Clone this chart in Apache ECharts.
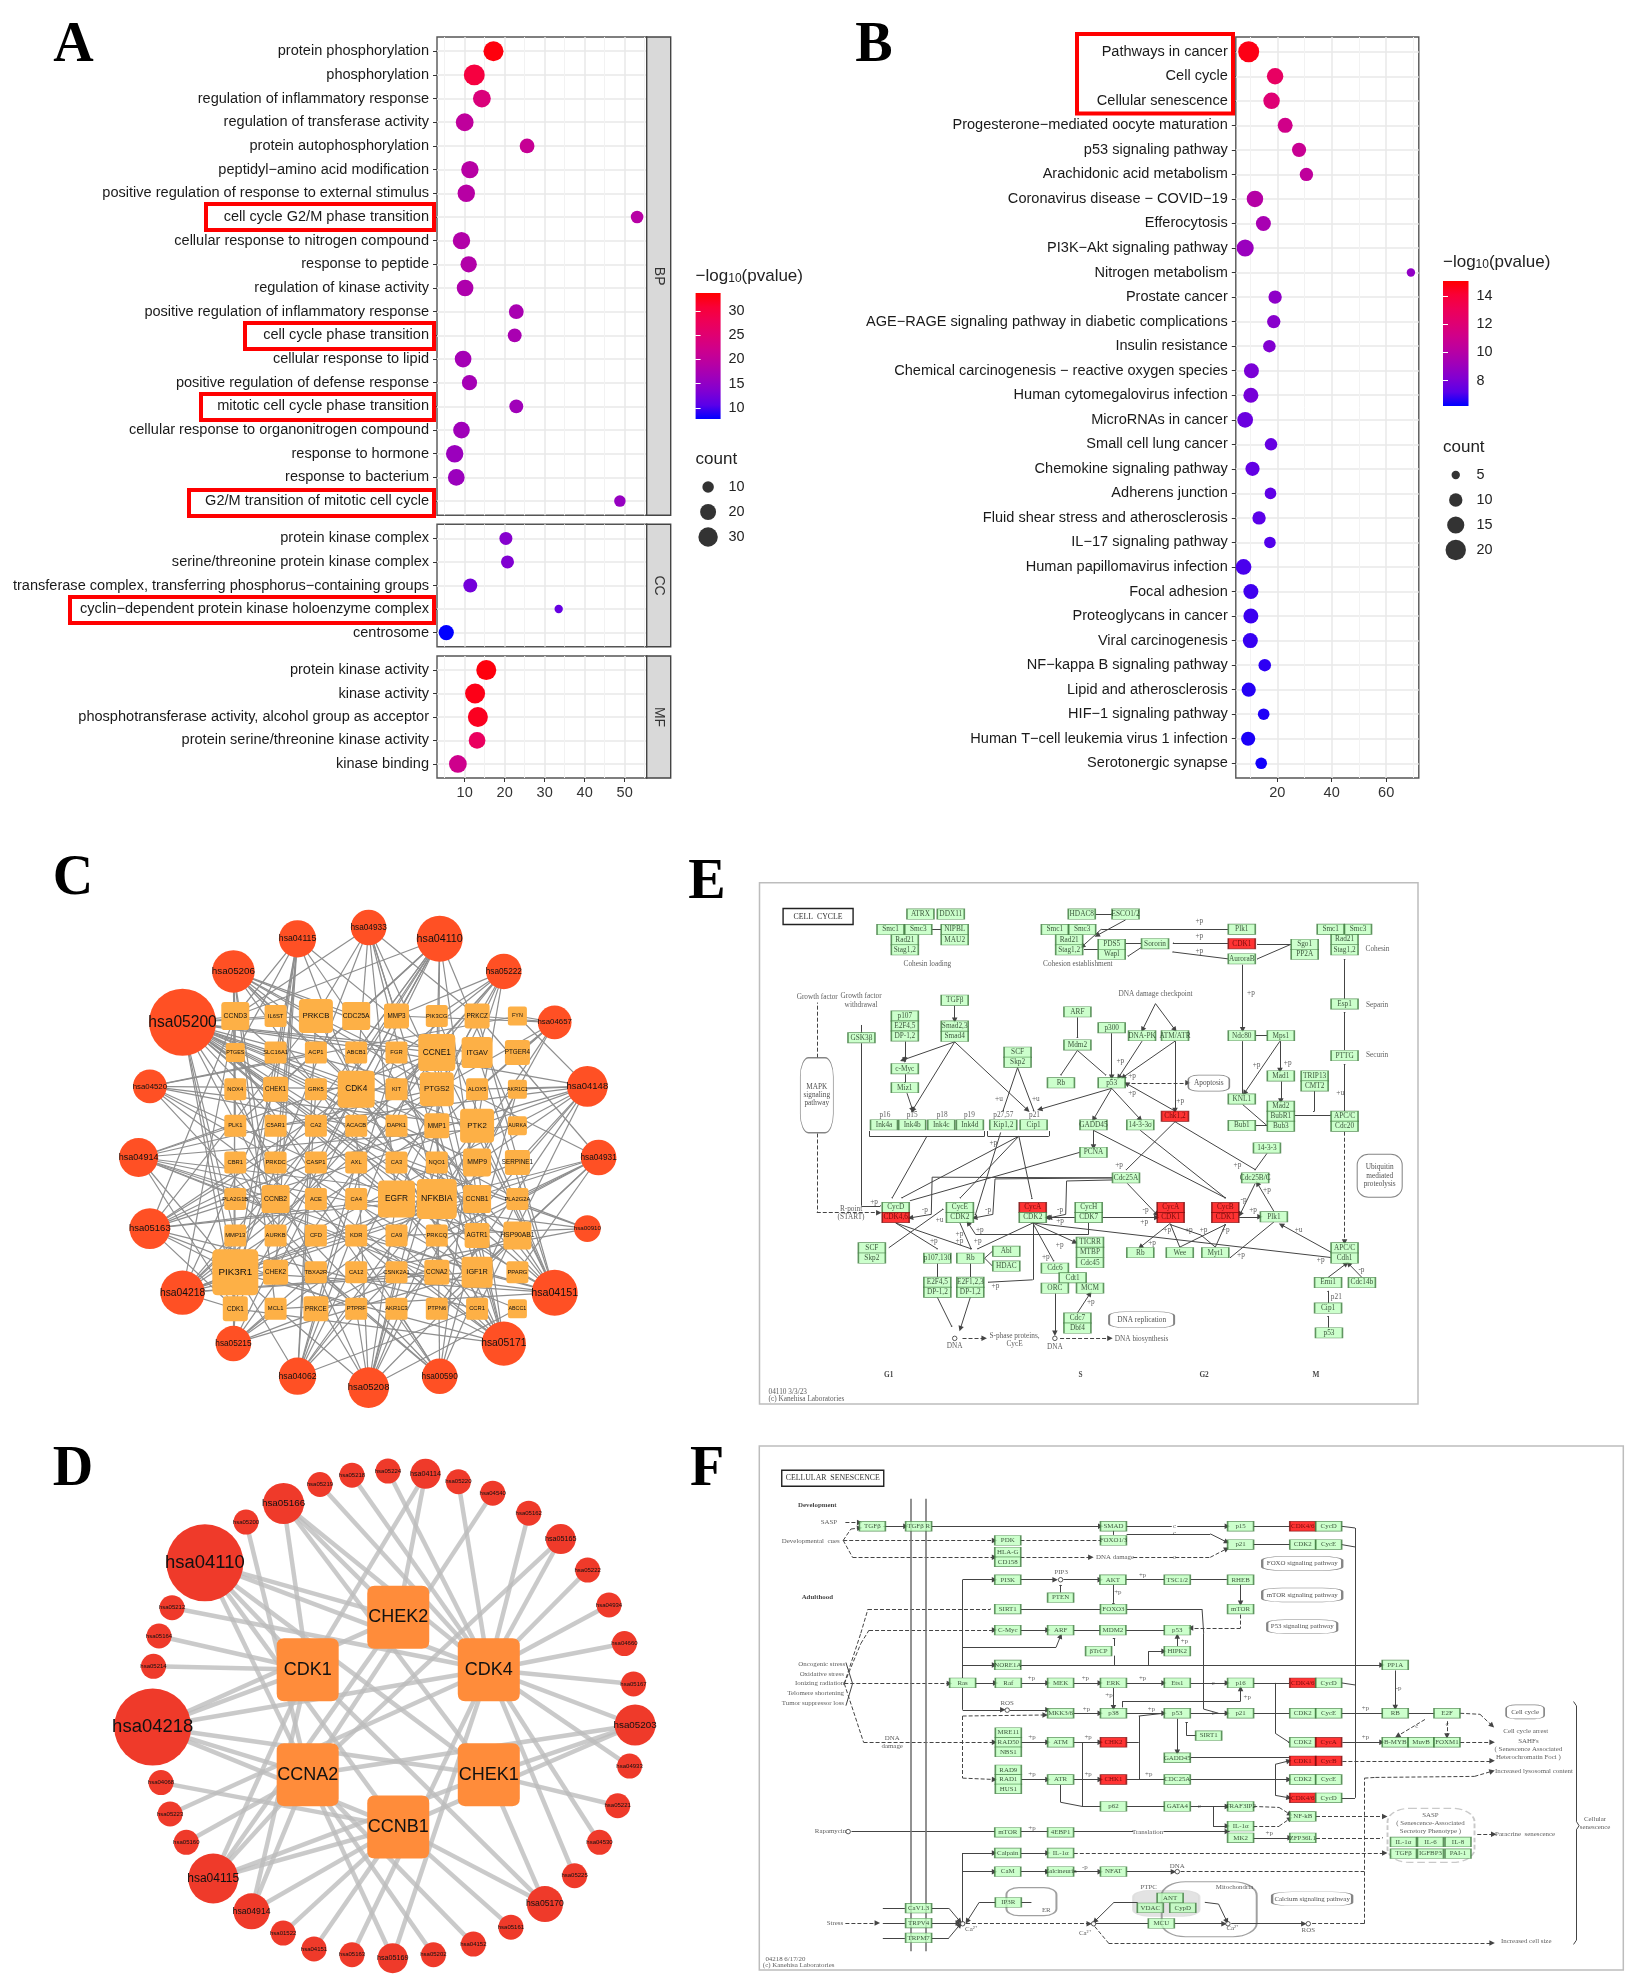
<!DOCTYPE html>
<html><head><meta charset="utf-8">
<script src="https://cdn.jsdelivr.net/npm/echarts@6/dist/echarts.min.js"></script>
<style>html,body{margin:0;padding:0;background:#fff}
#page{position:relative;width:1633px;height:1981px;overflow:hidden;background:#fff}
#main,#kegg{position:absolute;left:0;top:0;width:1633px;height:1981px}
#main{filter:blur(.35px)}#kegg{filter:blur(.6px)}</style></head>
<body><div id="page"><div id="main"></div><div id="kegg"></div></div>
<script>
// ---------- Panel A data ----------
const bpTerms=['protein phosphorylation','phosphorylation','regulation of inflammatory response','regulation of transferase activity','protein autophosphorylation','peptidyl−amino acid modification','positive regulation of response to external stimulus','cell cycle G2/M phase transition','cellular response to nitrogen compound','response to peptide','regulation of kinase activity','positive regulation of inflammatory response','cell cycle phase transition','cellular response to lipid','positive regulation of defense response','mitotic cell cycle phase transition','cellular response to organonitrogen compound','response to hormone','response to bacterium','G2/M transition of mitotic cell cycle'];
const bpEnrich=[17.2,12.4,14.3,10,25.6,11.3,10.4,53.1,9.2,11,10.1,22.9,22.5,9.6,11.2,22.9,9.2,7.5,7.9,48.8];
const bpLogP=[33,30,24,20,21,19,19,19,18.5,18.5,18,17.5,17.5,17,17,16.5,16.5,16,16,15.5];
const bpCount=[32,35,25,25,17,24,24,12,24,21,22,17,15,22,18,15,22,24,22,10];
const ccTerms=['protein kinase complex','serine/threonine protein kinase complex','transferase complex, transferring phosphorus−containing groups','cyclin−dependent protein kinase holoenzyme complex','centrosome'];
const ccEnrich=[20.3,20.7,11.4,33.5,5.4];
const ccLogP=[14,13.5,12.5,11.5,7.7];
const ccCount=[13,13,15,5,18];
const mfTerms=['protein kinase activity','kinase activity','phosphotransferase activity, alcohol group as acceptor','protein serine/threonine kinase activity','kinase binding'];
const mfEnrich=[15.4,12.6,13.3,13.1,8.3];
const mfLogP=[33,32.5,32,27,22];
const mfCount=[32,32,32,22,25];
// ---------- Panel B data ----------
const keggTerms=['Pathways in cancer','Cell cycle','Cellular senescence','Progesterone−mediated oocyte maturation','p53 signaling pathway','Arachidonic acid metabolism','Coronavirus disease − COVID−19','Efferocytosis','PI3K−Akt signaling pathway','Nitrogen metabolism','Prostate cancer','AGE−RAGE signaling pathway in diabetic complications','Insulin resistance','Chemical carcinogenesis − reactive oxygen species','Human cytomegalovirus infection','MicroRNAs in cancer','Small cell lung cancer','Chemokine signaling pathway','Adherens junction','Fluid shear stress and atherosclerosis','IL−17 signaling pathway','Human papillomavirus infection','Focal adhesion','Proteoglycans in cancer','Viral carcinogenesis','NF−kappa B signaling pathway','Lipid and atherosclerosis','HIF−1 signaling pathway','Human T−cell leukemia virus 1 infection','Serotonergic synapse'];
const keggEnrich=[9.5,19.2,17.9,22.9,28,30.7,11.8,14.9,8.2,69.1,19.2,18.7,17.1,10.5,10.3,8.2,17.7,10.9,17.5,13.3,17.3,7.6,10.3,10.3,10.1,15.4,9.5,15,9.3,14.1];
const keggLogP=[14.7,12.7,12,11.2,10.8,10.4,10,9.5,9,8.7,8.6,8.4,8.2,8,7.9,7.6,7.5,7.4,7.3,7.2,7.1,7,6.9,6.85,6.8,6.7,6.6,6.55,6.5,6.4];
const keggCount=[21,14,14,12,11,10,14,12,15,5,10,10,9,12,12,13,9,11,8,10,8,13,12,12,12,9,11,8,11,8];
// Lab-style blue to red ramp
const ramp=['#0000FF','#5A00E9','#8100D2','#9F00BA','#B900A2','#CF008B','#E00071','#EE0057','#F90037','#FF0000'];
// ---------- Panel C data ----------
const cPathways=['hsa04931','hsa00910','hsa04151','hsa05171','hsa00590','hsa05208','hsa04062','hsa05215','hsa04218','hsa05163','hsa04914','hsa04520','hsa05200','hsa05206','hsa04115','hsa04933','hsa04110','hsa05222','hsa04657','hsa04148'];
const cPathwayDegree=[10,5,16,15,10,13,11,10,15,13,12,9,28,14,11,10,16,10,9,13];
const cGenes=['CCND3','IL6ST','PRKCB','CDC25A','MMP3','PIK3CG','PRKCZ','FYN','PTGES','SLC16A1','ACP1','ABCB1','FGR','CCNE1','ITGAV','PTGER4','NOX4','CHEK1','GRK5','CDK4','KIT','PTGS2','ALOX5','AKR1C1','PLK1','C5AR1','CA2','ACACB','DAPK1','MMP1','PTK2','AURKA','CBR1','PRKDC','CASP1','AXL','CA3','NQO1','MMP9','SERPINE1','PLA2G1B','CCNB2','ACE','CA4','EGFR','NFKBIA','CCNB1','PLA2G2A','MMP13','AURKB','CFD','KDR','CA9','PRKCQ','AGTR1','HSP90AB1','PIK3R1','CHEK2','TBXA2R','CA12','CSNK2A1','CCNA2','IGF1R','PPARG','CDK1','MCL1','PRKCE','PTPRF','AKR1C3','PTPN6','CCR1','ABCC1'];
const cGeneDegree=[4,2,6,4,3,2,3,1,1,2,2,2,2,7,5,3,2,3,2,7,2,6,2,1,2,2,2,2,2,3,6,1,2,2,2,2,2,2,4,3,2,4,2,2,7,8,4,2,2,2,2,2,2,2,3,4,10,3,2,2,2,3,5,2,3,2,3,2,2,2,2,1];
const cLinks={
hsa05200:'CCND3 PRKCB IL6ST PTGES SLC16A1 CCNE1 ITGAV CHEK1 CDK4 PTGS2 MMP1 PTK2 PRKDC CASP1 MMP9 PLA2G2A EGFR NFKBIA CCNB2 MMP13 AGTR1 HSP90AB1 PIK3R1 IGF1R CDK1 PPARG FGR GRK5',
hsa05206:'CCND3 IL6ST PRKCB CCNE1 CDK4 PTGS2 PLK1 CCNB1 MCL1 EGFR MMP1 PIK3R1 AURKB CDC25A',
hsa04115:'CCND3 CCNE1 CHEK1 CDK4 PTGES CCNB2 CCNB1 PIK3R1 CHEK2 CDK1 PRKDC',
hsa04933:'PRKCB CCND3 CDK4 MMP9 EGFR NFKBIA PIK3R1 IGF1R PRKCZ MMP3',
hsa04110:'CCND3 CDC25A CCNE1 CDK4 CHEK1 PLK1 PRKDC CCNB2 CCNB1 AURKA CHEK2 CCNA2 CDK1 ABCB1 CA2 MMP3',
hsa05222:'CDK4 CCNE1 ITGAV PTK2 PTGS2 MMP3 PIK3R1 PIK3CG EGFR KIT',
hsa04657:'FYN MMP3 MMP1 MMP9 PTGS2 NFKBIA PRKCZ PTGER4 ALOX5',
hsa04148:'FGR FYN CASP1 CCR1 C5AR1 AKR1C1 PTK2 PTPN6 AKR1C3 MMP9 PIK3R1 SERPINE1 ALOX5',
hsa04931:'PRKCB PRKCE PRKCQ PRKCZ PTPN6 PPARG NFKBIA IGF1R PIK3R1 PLA2G2A',
hsa00910:'CA2 CA3 CA4 CA9 CA12',
hsa04151:'CCND3 CCNE1 CDK4 EGFR IGF1R ITGAV PTK2 PIK3R1 PIK3CG PRKCZ KDR MCL1 HSP90AB1 KIT PPARG CSNK2A1',
hsa05171:'CDK4 CCNE1 PTGS2 NFKBIA PIK3R1 CCR1 MMP1 MMP9 EGFR CASP1 PRKCB PTPN6 PRKDC CDK1 KDR',
hsa00590:'PTGS2 PTGES ALOX5 AKR1C1 AKR1C3 PLA2G1B PLA2G2A TBXA2R CBR1 ACE',
hsa05208:'NOX4 EGFR PIK3R1 HSP90AB1 NQO1 AKR1C1 PTK2 MMP1 ABCC1 CBR1 CSNK2A1 ACACB PTPRF',
hsa04062:'PIK3R1 PIK3CG PRKCB PTK2 NFKBIA GRK5 CCR1 FGR CSNK2A1 PRKCZ AXL',
hsa05215:'CCND3 CCNE1 CDK4 EGFR IGF1R PIK3R1 NFKBIA HSP90AB1 CDK1 MCL1',
hsa04218:'CCND3 CCNE1 CDK1 CDK4 CHEK1 CHEK2 CCNA2 CCNB2 CCNB1 MMP1 NFKBIA PIK3R1 SERPINE1 IGF1R PTGS2',
hsa05163:'CDK1 CCND3 CCNE1 CDK4 EGFR NFKBIA PIK3R1 PTGS2 PTK2 CASP1 PRKCB CCR1 PTPRF',
hsa04914:'CCNA2 CCNB1 CCNB2 CDK1 PLK1 AURKA PIK3R1 IGF1R HSP90AB1 CCNE1 PTGS2 ABCC1',
hsa04520:'ACP1 PTK2 PTPRF IGF1R FYN EGFR CSNK2A1 ACACB KIT'};
// ---------- Panel D data ----------
const dGenes=['CHEK2','CDK1','CDK4','CCNA2','CHEK1','CCNB1'];
const dGeneX=[906,677,1135,677,1135,906];
const dGeneY=[514,666,666,970,970,1122];
const dPathways=['hsa05224','hsa04114','hsa05220','hsa04540','hsa05162','hsa05165','hsa05222','hsa04934','hsa04660','hsa05167','hsa05203','hsa04933','hsa05221','hsa04530','hsa05225','hsa05170','hsa05161','hsa04152','hsa05202','hsa05169','hsa05163','hsa04151','hsa01522','hsa04914','hsa04115','hsa05160','hsa05223','hsa04068','hsa04218','hsa05214','hsa05164','hsa05212','hsa04110','hsa05200','hsa05166','hsa05219','hsa05218'];
const dPathX=[880,975,1058,1145,1236,1317,1385,1439,1478,1501,1505,1491,1461,1415,1352,1277,1191,1096,995,892,789,693,615,535,438,370,329,306,285,287,301,334,417,521,616,708,789];
const dPathY=[90,98,121,154,212,287,377,478,590,707,826,945,1060,1166,1263,1345,1412,1461,1492,1502,1492,1475,1429,1366,1271,1166,1084,993,832,656,568,486,356,238,184,129,102];
const dLinks={hsa05224:'CDK4',hsa04114:'CDK1 CHEK2',hsa05220:'CDK4',hsa04540:'CCNA2',hsa05162:'CDK4',hsa05165:'CDK4 CCNA2',hsa05222:'CDK4',hsa04934:'CDK4',hsa04660:'CDK4',hsa05167:'CDK4',hsa05203:'CDK4 CHEK1 CCNA2 CCNB1',hsa04933:'CDK4',hsa05221:'CHEK1',hsa04530:'CDK4',hsa05225:'CDK4',hsa05170:'CCNB1 CHEK1 CDK1',hsa05161:'CCNB1',hsa04152:'CCNA2',hsa05202:'CCNA2',hsa05169:'CDK4 CCNA2',hsa05163:'CDK4',hsa04151:'CCNB1',hsa01522:'CCNB1',hsa04914:'CCNB1 CCNA2 CDK1',hsa04115:'CCNB1 CCNA2 CDK1 CHEK1 CHEK2',hsa05160:'CCNA2',hsa05223:'CDK4',hsa04068:'CCNB1',hsa04218:'CDK1 CDK4 CCNA2 CHEK1 CCNB1 CHEK2',hsa05214:'CDK1',hsa05164:'CDK1',hsa05212:'CDK4',hsa04110:'CHEK2 CDK1 CDK4 CCNA2 CHEK1 CCNB1',hsa05200:'CCNA2',hsa05166:'CDK1 CHEK2 CDK4 CHEK1',hsa05219:'CDK4',hsa05218:'CDK4'};
// ---------- Panel E diagram (map units) ----------
const eBoxes=[['ATRX',393,128],['DDX11',463,128],['Smc1',324,173],['Smc3',388,173],['NIPBL',472,173],['Rad21',357,203],['MAU2',472,203],['Stag1,2',357,232],['HDAC8',765,128],['ESCO1/2',866,128],['Smc1',703,173],['Smc3',766,173],['Plk1',1134,172],['Rad21',736,203],['PDS5',834,216],['Sororin',934,214],['CDK1',1134,214,1],['Sgo1',1279,216],['Stag1,2',736,232],['Wapl',834,245],['PP2A',1279,245],['AuroraB',1134,258],['Smc1',1339,172],['Smc3',1402,172],['Rad21',1371,202],['Stag1,2',1371,232],['TGFβ',472,378],['Smad2,3',472,453],['Smad4',472,483],['p107',357,424],['E2F4,5',357,453],['DP-1,2',357,482],['ARF',755,412],['Mdm2',755,508],['p300',834,458],['DNA-PK',904,481],['ATM/ATR',980,481],['Rb',717,618],['p53',834,618],['GSK3β',257,487],['c-Myc',357,577],['Miz1',357,632],['SCF',617,529],['Skp2',617,558],['Ink4a',309,740],['Ink4b',374,740],['Ink4c',441,740],['Ink4d',507,740],['Kip1,2',584,740],['Cip1',654,740],['GADD45',792,740],['14-3-3σ',900,740],['Chk1,2',980,715,1],['Ndc80',1134,481],['Mps1',1224,481],['Mad1',1224,598],['Mad2',1224,686],['BubR1',1224,715],['Bub3',1224,744],['KNL1',1134,665],['Bub1',1134,742],['TRIP13',1302,598],['CMT2',1302,627],['APC/C',1371,715],['Cdc20',1371,744],['Esp1',1371,389],['PTTG',1371,539],['14-3-3',1192,807],['PCNA',792,820],['Cdc25A',867,894],['Cdc25B/C',1165,894],['CycD',336,980],['CDK4,6',336,1009,1],['CycE',484,980],['CDK2',484,1009],['CycA',652,980,1],['CDK2',652,1009],['CycH',781,980],['CDK7',781,1009],['CycA',970,980,1],['CDK1',970,1009,1],['CycB',1096,980,1],['CDK1',1096,1009,1],['Plk1',1208,1007],['SCF',281,1097],['Skp2',281,1127],['Abl',591,1107],['HDAC',591,1150],['p107,130',432,1127],['Rb',508,1127],['TICRR',784,1081],['MTBP',784,1110],['Cdc45',784,1140],['Rb',900,1111],['Wee',991,1111],['Myt1',1073,1111],['APC/C',1371,1097],['Cdh1',1371,1127],['Cdc6',703,1156],['Cdt1',744,1184],['ORC',703,1214],['MCM',784,1214],['E2F4,5',432,1197],['DP-1,2',432,1226],['E2F1,2,3',508,1197],['DP-1,2',508,1226],['Emi1',1333,1198],['Cdc14b',1411,1198],['Cip1',1333,1272],['p53',1335,1344],['Cdc7',755,1301],['Dbf4',755,1330]];
const eTexts=[['Cohesin loading',409,273],['Cohesion establishment',756,273],['Cohesin',1447,231],['Separin',1446,391],['Securin',1446,538],['Growth factor',155,370],['Growth factor\nwithdrawal',256,379],['DNA damage checkpoint',935,360],['R-point\n(START)',233,996],['p16',311,713],['p15',374,713],['p18',443,713],['p19',506,713],['p27,57',584,712],['p21',656,712],['S-phase proteins,\nCycE',610,1364],['DNA',472,1382],['DNA',703,1386],['DNA biosynthesis',903,1363],['p21',1352,1240],['04110 3/3/23',87,1516],['(c) Kanehisa Laboratories',130,1535],
['+p',1036,148],['+p',1036,191],['+p',1036,234],['+p',1155,357],['+p',854,556],['+p',881,597],['+p',881,648],['+p',992,670],['+u',574,666],['+u',659,666],['+p',1240,560],['+p',1168,566],['+u',1361,649],['+p',561,792],['+p',851,857],['+p',1124,857],['+p',1192,930],['+p',286,963],['-p',403,987],['+u',437,1016],['-p',549,987],['-p',715,987],['+p',715,1020],['-p',912,987],['+p',909,1022],['-p',1138,958],['+p',1160,987],['+p',483,1057],['+p',483,1078],['+p',530,1046],['+p',424,1078],['+p',525,1078],['+p',714,1088],['+p',682,1124],['+p',962,1046],['+p',927,1082],['+p',1012,1046],['+p',1046,1046],['+p',1097,1046],['+p',1132,1117],['+u',1265,1046],['+p',1316,1134],['+p',566,1207],['+p',786,1254],['-p',1410,1163]];
const eBoldTexts=[['G1',320,1467],['S',762,1467],['G2',1047,1467],['M',1305,1467]];
const eRounds=[['MAPK\nsignaling\npathway',154,654,33,75],['Ubiquitin\nmediated\nproteolysis',1452,888,45,43],['Apoptosis',1058,619,41,16],['DNA replication',903,1306,65,16]];
const eCircles=[[472,1360],[703,1360]];
const eEdges=[['l',420,173,441,173],['t',797,128,834,128],['a',866,145,800,190],['a',1102,172,810,172,766,222],['t',1102,212,975,212],['t',1102,258,975,238],['t',1247,216,1170,216],['t',1247,216,1170,258],['l',902,214,866,214],['t',902,225,872,250],['l',770,230,802,230],['a',1136,275,1136,464],['l',1166,481,1192,481],['a',1222,497,1222,582],['a',1222,497,1140,648],['l',1136,497,1136,650],['a',1224,614,1224,671],['l',1136,681,1192,742],['l',1166,742,1192,742],['t',1256,712,1338,712],['t',1300,642,1300,700],['da',1371,760,1371,1080],['t',1371,374,1371,260],['t',1371,523,1371,414],['t',1371,700,1371,565],['a',472,394,472,436],['a',472,499,352,552],['a',357,498,357,552],['t',357,593,357,617],['a',362,648,375,697],['a',472,499,375,697],['a',472,499,640,697],['t',617,574,584,697],['t',617,574,654,697],['t',755,428,755,487],['t',755,524,717,595],['t',755,524,820,595],['a',834,474,834,602],['a',904,497,850,602],['a',980,497,860,602],['a',980,497,980,698],['a',935,388,905,464],['a',935,388,980,464],['a',980,700,868,620],['a',834,634,668,695],['a',834,634,792,724],['a',834,634,900,724],['da',866,618,1010,618],['a',792,756,792,804],['t',792,756,1096,952],['t',900,756,1096,952],['t',980,731,868,870],['t',980,731,1165,870],['t',1192,823,1165,870],['l',275,758,275,773,541,773,541,758],['l',548,758,548,773,689,773,689,758],['t',408,773,328,952],['t',620,773,350,952],['t',620,773,485,952],['t',620,773,650,952],['t',760,820,370,960],['t',578,762,520,1000],['t',257,503,257,975,300,975],['d',154,545,154,385],['da',154,765,154,995,297,995],['a',836,894,420,892,418,1000,370,1010],['a',836,894,565,897,560,1000,518,1010],['a',836,900,730,903,728,1000,690,1010],['a',870,910,938,1000],['a',1165,910,1130,1000],['a',749,1009,685,1009],['a',813,1009,938,1009],['a',1128,1007,1176,1007],['a',1208,991,1170,910],['t',1208,1022,1108,1125],['a',1340,1110,1225,1030],['a',970,1025,900,1095],['t',991,1095,970,1030],['t',991,1095,1096,1030],['t',1073,1095,1040,1060,970,1030],['t',1073,1095,1096,1030],['t',652,1025,1338,1125],['a',652,1025,750,1081],['t',652,1025,700,1135],['t',652,1025,652,1190,550,1197],['t',652,1025,525,1100],['a',781,1025,781,1058,520,1058,503,1025],['t',336,1025,510,1100],['t',336,1025,432,1100],['t',484,1025,510,1100],['t',320,1097,445,985],['l',559,1107,541,1127],['l',559,1150,541,1127],['l',432,1143,432,1182],['l',508,1143,508,1182],['a',508,1241,485,1332],['t',432,1241,465,1325],['a',703,1230,703,1345],['a',755,1286,784,1230],['da',715,1360,830,1360],['da',490,1360,540,1360],['a',1333,1183,1375,1143],['a',1411,1183,1380,1143],['t',1333,1257,1333,1222],['t',1333,1329,1333,1295],['t',257,450,257,470]];
// ---------- Panel F diagram (map units) ----------
const fBoxes=[['TGFβ',186,250],['TGFβ R',270,250],['SMAD',624,250],['p15',855,250],['CDK4/6',968,250,1],['CycD',1015,250],['PDK',432,291],['FOXO1/3',624,291],['p21',855,303],['CDK2',968,303],['CycE',1015,303],['HLA-G',432,325],['CD158',432,353],['PI3K',432,405],['AKT',623,405],['TSC1/2',740,405],['RHEB',855,405],['PTEN',528,457],['SIRT1',432,490],['FOXO3',624,490],['mTOR',855,490],['C-Myc',432,551],['ARF',528,551],['MDM2',623,551],['p53',740,551],['βTrCP',597,612],['HIPK2',740,612],['NORE1A',432,652],['PP1A',1136,652],['Ras',350,704],['Raf',433,704],['MEK',528,704],['ERK',624,704],['Ets1',740,704],['p16',855,704],['CDK4/6',968,704,1],['CycD',1015,704],['MKK3/6',528,792],['p38',624,792],['p53',740,792],['p21',855,792],['CDK2',968,792],['CycE',1015,792],['RB',1136,792],['E2F',1230,792],['SIRT1',797,857],['MRE11',433,848],['RAD50',433,876],['NBS1',433,904],['ATM',528,876],['CHK2',624,876,1],['CDK2',968,876],['CycA',1015,876,1],['B-MYB',1136,876],['MuvB',1183,876],['FOXM1',1230,876],['GADD45',740,921],['CDK1',968,930,1],['CycB',1015,930,1],['RAD9',433,956],['RAD1',433,984],['HUS1',433,1011],['ATR',528,984],['CHK1',624,984,1],['CDC25A',740,984],['CDK2',968,984],['CycE',1015,984],['CDK4/6',968,1037,1],['CycD',1015,1037],['p62',624,1062],['GATA4',740,1062],['TRAF3IP2',855,1062],['NF-kB',968,1091],['IL-1α',855,1119],['mTOR',432,1137],['4EBP1',528,1137],['MK2',855,1153],['ZFP36L1',968,1153],['IL-1α',1151,1165],['IL-6',1200,1165],['IL-8',1250,1165],['TGFβ',1151,1199],['IGFBP3',1200,1199],['PAI-1',1250,1199],['Calpain',432,1197],['IL-1α',528,1197],['CaM',432,1251],['Calcineurin',528,1251],['NFAT',624,1251],['IP3R',433,1340],['ANT',727,1327],['VDAC',691,1356],['CypD',750,1356],['MCU',711,1401],['CaV1.3',270,1357],['TRPV4',270,1400],['TRPM7',270,1443]];
const fTexts=[['SASP',107,239],['Developmental  cues',74,292],['DNA damage',627,339],['PIP3',529,384],['Oncogenic stress',94,651],['Oxidative stress',94,678],['Ionizing radiation',90,706],['Telomere shortening',83,734],['Tumor suppressor loss',78,762],['ROS',431,763],['DNA\ndamage',222,875],['Rapamycin',110,1135],['Translation',686,1136],['Stress',118,1400],['ER',502,1364],['PTPC',688,1295],['Mitochondria',844,1297],['Ca²⁺',365,1419],['Ca²⁺',572,1428],['Ca²⁺',840,1416],['ROS',978,1422],['DNA',740,1235],['Cell cycle arrest',1373,843],['SAHFs\n( Senescence Associated\nHeterochromatin Foci )',1378,895],['Increased lysosomal content',1388,960],['Paracrine  senescence',1372,1143],['Increased cell size',1374,1454],['Cellular\nsenescence',1499,1110],['SASP\n( Senescence-Associated\nSecretory Phenotype )',1200,1110],['04218 6/17/20',28,1504],['(c) Kanehisa Laboratories',52,1522],
['+p',677,392],['+p',632,440],['+p',475,690],['+p',573,690],['+p',677,690],['+p',616,740],['+p',867,744],['-p',1142,718],['+p',753,584],['+p',575,780],['+p',693,780],['+p',1082,778],['+p',1082,862],['+p',476,860],['+p',578,862],['+p',476,970],['+p',578,970],['+p',688,970],['+p',907,1140],['+p',476,1124],['-p',572,1238],['c',735,250],['c',735,270],['c',735,340],['c',805,704],['c',805,792],['c',780,1062],['c',1175,830],['c',1230,823]];
const fBoldTexts=[['Development',86,189],['Adulthood',86,456]];
const fRounds=[['FOXO signaling pathway',967,358,80,14],['mTOR signaling pathway',967,449,80,14],['P53 signaling pathway',967,541,70,14],['Calcium signaling pathway',985,1330,80,14],['Cell cycle',1372,788,38,14]];
const fCircles=[[431,783],[528,405],[740,1251],[350,1402],[588,1402],[832,1402],[978,1402],[142,1135]];
const fEdges=[['da',137,239,163,239],['a',205,250,247,250],['a',293,250,601,250],['l',647,250,730,250],['a',740,250,831,250],['t',878,250,943,250],['da',133,291,408,291],['dt',455,291,600,291],['da',133,291,147,258,163,255],['da',133,291,150,340,408,340],['da',455,340,583,340],['da',660,340,800,340,830,315],['a',648,272,800,272,830,296],['l',624,262,624,275],['t',878,303,943,303],['l',1038,250,1063,255,1063,1037,1038,1037],['l',1038,303,1063,310],['l',1038,704,1063,710],['l',1038,792,1063,792],['a',350,690,350,405,408,405],['a',455,405,518,405],['a',533,405,600,405],['t',528,442,528,420],['t',647,405,716,405],['t',764,405,830,405],['a',855,420,855,473],['t',624,420,624,472],['da',855,506,855,545,764,545],['dt',135,706,165,560,178,490,400,490],['da',135,706,165,590,180,551,408,551],['t',456,490,600,490],['l',648,490,785,490,788,560,788,780,815,792],['a',456,551,505,551],['t',552,551,600,551],['t',647,551,716,551],['t',625,597,625,574],['a',350,600,520,600,528,568],['a',740,597,740,568],['a',350,652,408,652],['a',455,652,1112,652],['l',625,652,625,625],['a',688,652,688,612,716,612],['a',1136,668,1136,775],['da',135,706,326,706],['a',373,704,410,704],['a',456,704,505,704],['a',552,704,600,704],['a',647,704,716,704],['a',764,704,831,704],['t',878,704,943,704],['a',350,718,350,782,423,782],['a',436,782,505,782],['a',552,792,600,792],['a',624,719,624,776],['a',647,792,716,792],['a',764,792,831,792],['a',640,775,640,757,855,757,855,720],['t',878,792,943,792],['t',918,704,918,850,943,876],['t',1040,792,1112,792],['t',1160,792,1206,792],['da',1254,792,1290,795,1312,828],['da',1190,810,1140,858],['da',1230,815,1230,858],['a',1040,876,1112,876],['da',1254,876,1312,876],['da',1040,930,1312,930],['da',135,706,170,876,408,876],['da',350,800,350,980,408,984],['da',350,800,500,797],['a',456,876,505,876],['a',552,876,600,876],['a',552,984,600,984],['a',456,984,505,984],['t',648,984,716,984],['a',764,984,943,984],['l',648,876,670,876,670,800,716,792],['l',648,984,670,984,670,800],['t',567,876,567,1062,600,1062],['l',528,1000,528,1050,567,1062],['t',648,1062,716,1062],['a',764,1062,831,1062],['a',805,1062,805,1119,831,1119],['da',878,1062,925,1065,945,1085],['da',878,1119,925,1119,945,1097],['da',992,1091,1117,1091],['a',878,1153,945,1153],['dt',992,1153,1112,1153],['a',740,808,740,905],['t',775,857,757,857,757,818],['t',764,919,943,919],['a',918,984,918,940,943,930],['a',918,984,918,1030,943,1037],['t',148,1135,408,1135],['t',456,1135,505,1135],['l',552,1135,660,1135],['a',715,1135,831,1135],['a',350,1400,350,1197,408,1197],['a',350,1251,408,1251],['a',456,1197,505,1197],['da',552,1197,1117,1197],['a',456,1251,505,1251],['a',552,1251,600,1251],['a',648,1251,733,1251],['d',746,1251,1080,1251],['da',1080,1402,1080,980,1100,978,1280,975,1312,960],['d',985,1402,1080,1402],['da',137,1400,195,1400],['l',205,1357,245,1357],['l',205,1400,245,1400],['l',205,1443,245,1443],['a',294,1357,325,1357,345,1395],['a',294,1400,342,1400],['a',294,1443,325,1443,345,1405],['da',356,1402,580,1402],['a',410,1340,380,1340,358,1395],['l',456,1340,475,1340],['l',590,1402,688,1402],['a',735,1402,825,1402],['a',838,1402,970,1402],['a',668,1340,625,1340,590,1395],['a',790,1340,815,1345,830,1395],['da',590,1410,615,1458,1312,1458],['l',1460,758,1465,770,1465,1105,1470,1118,1465,1130,1465,1450,1460,1462],['l',138,645,150,706,138,770],['da',1285,1143,1315,1143],['m',255,170,255,1482],['m',283,170,283,1482]];

// ---------- helpers ----------
const SANS='"Liberation Sans",Arial,sans-serif',SERIF='"Liberation Serif","Times New Roman",serif';
const roundSq='path://M12 0H88Q100 0 100 12V88Q100 100 88 100H12Q0 100 0 88V12Q0 0 12 0Z';
function newOpt(){return {animation:false,grid:[],xAxis:[],yAxis:[],series:[],graphic:{elements:[]},visualMap:[]};}
function addText(o,text,x,y,st){o.graphic.elements.push({type:'text',z:50,x,y,style:Object.assign({text,fontFamily:SANS,fontSize:14.4,fill:'#222',align:'left',verticalAlign:'middle'},st||{})});}
function addRect(o,x,y,w,h,st,z){o.graphic.elements.push({type:'rect',z:z||50,shape:{x,y,width:w,height:h},style:st});}
function hiddenGrid(o,left,top,w,h,xr,yr){
  o.grid.push({left,top,width:w,height:h,show:false});
  const g=o.grid.length-1;
  o.xAxis.push({gridIndex:g,type:'value',show:false,min:xr[0],max:xr[1],splitLine:{show:false}});
  o.yAxis.push({gridIndex:g,type:'value',show:false,min:yr[0],max:yr[1],inverse:true,splitLine:{show:false}});
  return {xAxisIndex:o.xAxis.length-1,yAxisIndex:o.yAxis.length-1};
}
function facet(o,b,terms,xs,ps,cs,ext,majors,minors,showX,sizeFn,vmSeries){
  o.grid.push({left:b.l,top:b.t,width:b.r-b.l,height:b.b-b.t,show:true,backgroundColor:'#fff',borderColor:'#555',borderWidth:1.4});
  const g=o.grid.length-1,n=terms.length,rows=terms.map((_,i)=>i);
  o.xAxis.push({gridIndex:g,type:'value',min:ext[0],max:ext[1],position:'bottom',axisLine:{show:false,onZero:false},
    axisTick:{show:showX,length:4,lineStyle:{color:'#333'},customValues:majors},
    axisLabel:{show:showX,margin:7,fontFamily:SANS,fontSize:14.55,color:'#333',customValues:majors},
    splitLine:{show:true,lineStyle:{color:'#e8e8e8',width:1.5}}});
  const xi=o.xAxis.length-1;
  o.xAxis.push({gridIndex:g,type:'value',min:ext[0],max:ext[1],position:'bottom',axisLine:{show:false,onZero:false},
    axisTick:{show:false,customValues:minors},axisLabel:{show:false},splitLine:{show:true,lineStyle:{color:'#f2f2f2',width:1}}});
  o.yAxis.push({gridIndex:g,type:'value',min:-0.6,max:n-0.4,inverse:true,axisLine:{show:false,onZero:false},
    axisTick:{show:true,length:4,lineStyle:{color:'#333'},customValues:rows},
    axisLabel:{show:true,margin:8,padding:[2,0,0,0],fontFamily:SANS,fontSize:14.55,color:'#1a1a1a',customValues:rows,formatter:v=>terms[Math.round(v)]},
    splitLine:{show:true,lineStyle:{color:'#e8e8e8',width:1.5}}});
  o.series.push({type:'scatter',xAxisIndex:xi,yAxisIndex:o.yAxis.length-1,silent:true,z:5,
    data:terms.map((_,i)=>[xs[i],i,ps[i],cs[i]]),symbolSize:v=>sizeFn(v[3]),itemStyle:{opacity:1}});
  vmSeries.push(o.series.length-1);
}
function strip(o,x,y,w,h,label){
  addRect(o,x,y,w,h,{fill:'#d9d9d9',stroke:'#444',lineWidth:1.4},40);
  o.graphic.elements.push({type:'text',z:50,x:x+w/2,y:y+h/2,rotation:-Math.PI/2,style:{text:label,fontFamily:SANS,fontSize:14,fill:'#333',align:'center',verticalAlign:'middle'}});
}
function colorBar(o,b,ext,ticks){
  o.grid.push({left:b.l,top:b.t,width:b.w,height:b.h,show:true,borderWidth:0,
    backgroundColor:new echarts.graphic.LinearGradient(0,1,0,0,ramp.map((c,i)=>({offset:i/(ramp.length-1),color:c})))});
  const g=o.grid.length-1;
  o.xAxis.push({gridIndex:g,type:'value',show:false,min:0,max:1});
  const tick={show:true,inside:true,length:5,lineStyle:{color:'#fff',width:1},customValues:ticks};
  o.yAxis.push({gridIndex:g,type:'value',min:ext[0],max:ext[1],position:'right',axisLine:{show:false},axisTick:tick,
    axisLabel:{margin:8,fontFamily:SANS,fontSize:14.4,color:'#222',customValues:ticks},splitLine:{show:false}});
  o.yAxis.push({gridIndex:g,type:'value',min:ext[0],max:ext[1],position:'left',axisLine:{show:false},axisTick:tick,axisLabel:{show:false},splitLine:{show:false}});
}
function sizeLegend(o,b,labels,sizeFn){
  o.grid.push({left:b.l,top:b.t,width:b.w,height:b.h,show:false});
  const g=o.grid.length-1;
  o.xAxis.push({gridIndex:g,type:'value',show:false,min:0,max:1,splitLine:{show:false}});
  o.yAxis.push({gridIndex:g,type:'category',data:labels.map(String),inverse:true,position:'right',axisLine:{show:false},axisTick:{show:false},splitLine:{show:false},
    axisLabel:{margin:8,fontFamily:SANS,fontSize:14.4,color:'#222'}});
  o.series.push({type:'scatter',xAxisIndex:o.xAxis.length-1,yAxisIndex:o.yAxis.length-1,silent:true,
    data:labels.map(l=>[0.5,String(l),l]),symbolSize:v=>sizeFn(v[2]),itemStyle:{color:'#000'}});
}
function colorTitle(o,x,y){
  addText(o,'{a|−log}{s|10}{a|(pvalue)}',x,y,{rich:{a:{fontFamily:SANS,fontSize:17,fill:'#222',color:'#222'},s:{fontFamily:SANS,fontSize:12,fill:'#222',color:'#222',padding:[5,0,0,0],verticalAlign:'bottom'}}});
}
function redBox(o,x0,y0,x1,y1){addRect(o,x0,y0,x1-x0,y1-y0,{fill:'none',stroke:'#f00',lineWidth:4},60);}
function letter(o,t,x,y){addText(o,t,x,y,{fontFamily:SERIF,fontSize:56,fontWeight:'bold',fill:'#000',align:'center'});}

// ---------- main chart: A, B, C, D ----------
const M=newOpt();
const sizeA=c=>0.72+3.41*Math.sqrt(c), sizeB=c=>-3.6+5.37*Math.sqrt(c);
const extA=[3.08,55.5],majA=[10,20,30,40,50],minA=[5,15,25,35,45,55];
const vmA=[],vmB=[];
facet(M,{l:437,r:646.7,t:37,b:515.3},bpTerms,bpEnrich,bpLogP,bpCount,extA,majA,minA,false,sizeA,vmA);
facet(M,{l:437,r:646.7,t:524.3,b:646.7},ccTerms,ccEnrich,ccLogP,ccCount,extA,majA,minA,false,sizeA,vmA);
facet(M,{l:437,r:646.7,t:656,b:778},mfTerms,mfEnrich,mfLogP,mfCount,extA,majA,minA,true,sizeA,vmA);
facet(M,{l:1235.8,r:1418.8,t:37,b:778},keggTerms,keggEnrich,keggLogP,keggCount,[4.76,72],[20,40,60],[10,30,50,70],true,sizeB,vmB);
M.visualMap.push({show:false,type:'continuous',seriesIndex:vmA,dimension:2,min:7.7,max:33.7,inRange:{color:ramp}});
M.visualMap.push({show:false,type:'continuous',seriesIndex:vmB,dimension:2,min:6.2,max:15.07,inRange:{color:ramp}});
strip(M,646.7,37,24,478.3,'BP');strip(M,646.7,524.3,24,122.4,'CC');strip(M,646.7,656,24,122,'MF');
colorBar(M,{l:695.6,t:293,w:25,h:126},[7.7,33.7],[10,15,20,25,30]);
colorBar(M,{l:1443,t:281,w:25.5,h:125},[6.2,15.07],[8,10,12,14]);
sizeLegend(M,{l:695.6,t:474.5,w:25,h:75},[10,20,30],sizeA);
sizeLegend(M,{l:1443,t:462.5,w:25.5,h:100},[5,10,15,20],sizeB);
colorTitle(M,695.6,276);colorTitle(M,1443,262);
addText(M,'count',695.6,459.5,{fontSize:17});addText(M,'count',1443,447.5,{fontSize:17});
redBox(M,206,204,434,230);redBox(M,245,323,434,349);redBox(M,201,394,434,420);redBox(M,189,490,434,516);redBox(M,70,597,434,623);
redBox(M,1077,34,1233,113.5);
letter(M,'A',73.5,46.5);letter(M,'B',874,46.5);letter(M,'C',73,880);letter(M,'D',73,1470.5);

// Panel C network: pathways on a ring (18 degree slots), genes in an 8-column matrix
const cAx=hiddenGrid(M,40,840,620,570,[0,620],[0,570]);
const cNodes=[];
cPathways.forEach((n,i)=>{const a=i*Math.PI/10,s=18+1.75*cPathwayDegree[i];
  cNodes.push({name:n,value:[328.6+230*Math.cos(a),317.5+230*Math.sin(a)],symbol:'circle',symbolSize:s,itemStyle:{color:'#FF5024'},label:{fontSize:s/4.3}});});
cGenes.forEach((n,i)=>{const s=16+3*cGeneDegree[i];
  cNodes.push({name:n,value:[195.3+40.3*(i%8),176+36.6*Math.floor(i/8)],symbol:roundSq,symbolSize:s,itemStyle:{color:'#FDB046'},label:{fontSize:2.2+0.165*s}});});
const cEdges=[];for(const p in cLinks)cLinks[p].split(' ').forEach(g=>cEdges.push({source:p,target:g}));
M.series.push(Object.assign({type:'graph',coordinateSystem:'cartesian2d',silent:true,layout:'none',data:cNodes,links:cEdges,
  lineStyle:{color:'#8e8e8e',width:1.2,opacity:1},label:{show:true,position:'inside',fontFamily:SANS,color:'#111',formatter:'{b}'}},cAx));

// Panel D network
const dAx=hiddenGrid(M,40,1440,620,541,[0,1568],[0,1568]);
const dSize=[25,25,30,36,41,50,77];
const dNodes=[];
dPathways.forEach((n,i)=>{const s=dSize[dLinks[n].split(' ').length];
  dNodes.push({name:n,value:[dPathX[i],dPathY[i]],symbol:'circle',symbolSize:s,itemStyle:{color:'#EF3A2A'},label:{fontSize:Math.max(s*0.24,5)}});});
dGenes.forEach((n,i)=>dNodes.push({name:n,value:[dGeneX[i],dGeneY[i]],symbol:roundSq,symbolSize:[62,63],itemStyle:{color:'#FF8C3A'},label:{fontSize:18}}));
const dEdges=[];for(const p in dLinks)dLinks[p].split(' ').forEach(g=>dEdges.push({source:p,target:g}));
M.series.push(Object.assign({type:'graph',coordinateSystem:'cartesian2d',silent:true,layout:'none',data:dNodes,links:dEdges,
  lineStyle:{color:'#bdbdbd',width:4.5,opacity:.8},label:{show:true,position:'inside',fontFamily:SANS,color:'#111',formatter:'{b}'}},dAx));

// ---------- KEGG chart: E, F ----------
const K=newOpt();
function diagram(ax,sx,sy,boxW,boxH,boxes,texts,bolds,rounds,circles,edges,fontSize){
  const green='#BFFFBF',seg=[],lw=1;
  const pushSeg=(a,b,style,tail)=>seg.push(Object.assign({coords:[a,b],lineStyle:style},tail||{}));
  edges.forEach(e=>{
    const t=e[0],pts=[];for(let i=1;i<e.length;i+=2)pts.push([e[i],e[i+1]]);
    const dashed=t[0]==='d',style=t==='m'?{color:'#777',width:1.6,type:'solid'}:{color:'#444',width:lw,type:dashed?'dashed':'solid'};
    for(let i=0;i<pts.length-1;i++){
      const last=i===pts.length-2,arrow=last&&(t==='a'||t==='da');
      pushSeg(pts[i],pts[i+1],style,{symbol:arrow?['none','triangle']:['none','none'],symbolSize:arrow?[0,5.5]:[0,0]});
    }
    if(t==='t'||t==='dt'){
      const p=pts[pts.length-1],q=pts[pts.length-2],dx=(p[0]-q[0])/sx,dy=(p[1]-q[1])/sy,l=Math.hypot(dx,dy)||1;
      const nx=-dy/l*4*sx,ny=dx/l*4*sy;
      pushSeg([p[0]-nx,p[1]-ny],[p[0]+nx,p[1]+ny],{color:'#444',width:lw,type:'solid'},{symbol:['none','none'],symbolSize:[0,0]});
    }
  });
  K.series.push(Object.assign({type:'lines',coordinateSystem:'cartesian2d',polyline:false,silent:true,z:3,data:seg,lineStyle:{opacity:1,curveness:0}},ax));
  const label=(extra)=>Object.assign({show:true,position:'inside',fontFamily:SERIF,fontSize,color:'#142814',formatter:'{b}',lineHeight:fontSize+1},extra||{});
  K.series.push(Object.assign({type:'scatter',silent:true,z:4,symbol:'rect',clip:false,
    data:boxes.map(b=>({name:b[0],value:[b[1],b[2]],symbolSize:[boxW,boxH],
      itemStyle:{color:b[3]?'#FF0000':green,borderColor:b[3]?'#7a1010':'#3f7a3f',borderWidth:1},label:b[3]?{color:'#5a0000'}:{}})),
    label:label()},ax));
  K.series.push(Object.assign({type:'scatter',silent:true,z:4,symbol:'roundRect',clip:false,
    data:rounds.map(b=>({name:b[0],value:[b[1],b[2]],symbolSize:[b[3],b[4]]})),
    itemStyle:{color:'#fff',borderColor:'#666',borderWidth:1},label:label({color:'#222'})},ax));
  K.series.push(Object.assign({type:'scatter',silent:true,z:4,symbol:'circle',symbolSize:4.5,clip:false,data:circles,
    itemStyle:{color:'#fff',borderColor:'#333',borderWidth:1}},ax));
  K.series.push(Object.assign({type:'scatter',silent:true,z:5,symbol:'circle',symbolSize:0,clip:false,
    data:texts.map(b=>({name:b[0],value:[b[1],b[2]]})),itemStyle:{color:'rgba(0,0,0,0)'},label:label({color:'#333'})},ax));
  K.series.push(Object.assign({type:'scatter',silent:true,z:5,symbol:'circle',symbolSize:0,clip:false,
    data:bolds.map(b=>({name:b[0],value:[b[1],b[2]]})),itemStyle:{color:'rgba(0,0,0,0)'},label:label({color:'#111',fontWeight:'bold'})},ax));
}
function titleBox(o,cx,cy,w,h,t){
  addRect(o,cx-w/2,cy-h/2,w,h,{fill:'#fff',stroke:'#222',lineWidth:1.4},45);
  addText(o,t,cx,cy,{fontFamily:SERIF,fontSize:7.8,fill:'#333',align:'center'});
}
const eAx=hiddenGrid(K,750,870,680,540,[0,1568],[0,1568]);
addRect(K,759.5,882.7,658.5,521.3,{fill:'none',stroke:'#bdbdbd',lineWidth:1.5},2);
diagram(eAx,680/1568,540/1568,27,10.3,eBoxes,eTexts,eBoldTexts,eRounds,eCircles,eEdges,7.3);
titleBox(K,750+157*680/1568,870+135*540/1568,70,16,'CELL  CYCLE');
const fAx=hiddenGrid(K,770,1440,863,541,[0,1568],[0,1568]);
addRect(K,759.3,1446,864,524,{fill:'none',stroke:'#bdbdbd',lineWidth:1.5},2);
// organelle outlines of panel F (map units for centre, px for size)
const fShapes=[[720,1343,66,26,'#dcdcdc','#dcdcdc','solid'],[798,1360,95,55,'rgba(0,0,0,0)','#888','solid'],[475,1338,50,28,'rgba(0,0,0,0)','#888','solid'],[1201,1146,87,54,'rgba(0,0,0,0)','#bbb','dashed']];
K.series.push(Object.assign({type:'scatter',silent:true,z:1,symbol:'roundRect',clip:false,
  data:fShapes.map(s=>({value:[s[0],s[1]],symbolSize:[s[2],s[3]],itemStyle:{color:s[4],borderColor:s[5],borderWidth:1.5,borderType:s[6]}}))},fAx));
diagram(fAx,863/1568,541/1568,26,9.7,fBoxes,fTexts,fBoldTexts,fRounds,fCircles,fEdges,6.9);
titleBox(K,770+114*863/1568,1440+111*541/1568,102,16,'CELLULAR  SENESCENCE');
letter(K,'E',707,884);letter(K,'F',707,1471);

const mainChart=echarts.init(document.getElementById('main'),null,{renderer:'canvas'});
mainChart.setOption(M);
const keggChart=echarts.init(document.getElementById('kegg'),null,{renderer:'canvas'});
keggChart.setOption(K);
</script></body></html>
